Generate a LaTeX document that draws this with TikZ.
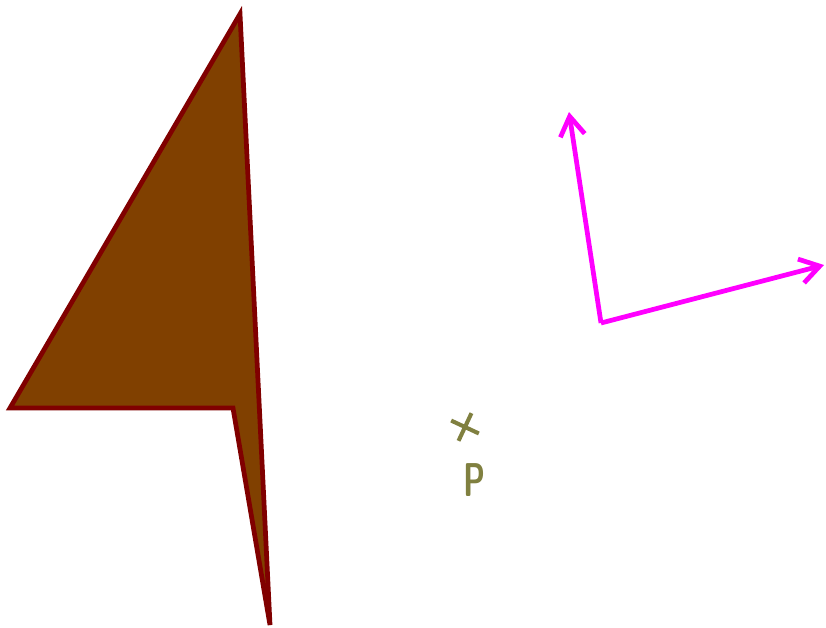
\documentclass[tikz,border=0pt]{standalone}
\usepackage{xcolor}
\usepackage{tikz}
\usetikzlibrary{arrows.meta,positioning,shapes.misc}
\definecolor{shapefill}{RGB}{128,64,0}
\definecolor{shapeedge}{RGB}{128,0,0}
\definecolor{axiscol}{RGB}{255,0,255}
\definecolor{pointcol}{RGB}{128,128,64}

\begin{document}
\begin{tikzpicture}[
  x=0.02cm, y=-0.02cm,
  arrowpoly/.style={draw=shapeedge, fill=shapefill, line width=2.7pt, line join=miter},
  axis/.style={draw=axiscol, line width=2.7pt, -{Straight Barb[length=11pt,width=14pt,line width=2.7pt]}},
  pointmark/.style={draw=pointcol, line width=2.3pt, cross out, minimum size=10pt, inner sep=0pt, rotate=20},
  pointlabel/.style={text=pointcol, xscale=0.66, font=\fontsize{27}{30}\selectfont\sffamily\bfseries}
]
  \useasboundingbox (0,0) rectangle (826,627);
  % arrow-shaped polygon
  \coordinate (top) at (240,14);
  \coordinate (left) at (10,408);
  \coordinate (notch) at (233,408);
  \coordinate (tip) at (270,625);
  \draw[arrowpoly] (top) -- (left) -- (notch) -- (tip) -- cycle;
  % frame
  \coordinate (origin) at (601,323);
  \coordinate (yaxis) at (569,112);
  \coordinate (xaxis) at (824,265);
  \draw[axis] (origin) -- (yaxis);
  \draw[axis] (origin) -- (xaxis);
  % point
  \node[pointmark] (p) at (465,427) {};
  \node[pointlabel] (plabel) at (475,480) {P};
\end{tikzpicture}
\end{document}
